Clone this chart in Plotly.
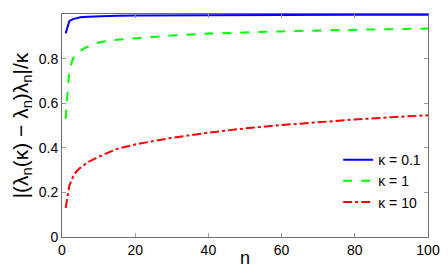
import plotly.graph_objects as go

n_blue = [1, 2, 3, 4, 5, 7, 10, 15, 20, 30, 40, 48, 60, 80, 100]
v_blue = [0.913, 0.968, 0.977, 0.982, 0.985, 0.988, 0.990, 0.992, 0.993, 0.994, 0.995, 0.997, 0.997, 0.997, 0.997]

n_green = [1, 2, 3, 4, 6, 8, 10, 14, 20, 25, 30, 40, 50, 60, 70, 80, 90, 100]
v_green = [0.53, 0.75, 0.80, 0.82, 0.846, 0.86, 0.872, 0.883, 0.891, 0.898, 0.904, 0.912, 0.918, 0.922, 0.926, 0.930, 0.933, 0.935]

n_red = [1, 2, 3, 4, 5, 7, 10, 15, 20, 30, 40, 50, 60, 70, 80, 90, 100]
v_red = [0.13, 0.23, 0.27, 0.295, 0.31, 0.335, 0.36, 0.395, 0.415, 0.445, 0.468, 0.487, 0.502, 0.516, 0.527, 0.537, 0.546]

labels = ["κ = 0.1", "κ = 1", "κ = 10"]

fig = go.Figure()
fig.add_trace(go.Scatter(x=n_blue, y=v_blue, mode="lines", name=labels[0],
                         line=dict(color="#0000ff", width=2, dash="solid")))
fig.add_trace(go.Scatter(x=n_green, y=v_green, mode="lines", name=labels[1],
                         line=dict(color="#00ff00", width=2, dash="dash")))
fig.add_trace(go.Scatter(x=n_red, y=v_red, mode="lines", name=labels[2],
                         line=dict(color="#ff0000", width=2, dash="dashdot")))

axis_common = dict(
    showgrid=False, zeroline=False, showline=True, linecolor="#6e6e6e", linewidth=1,
    mirror="ticks", ticks="inside", ticklen=4, tickcolor="#9a9a9a",
    tickfont=dict(family="Liberation Sans, Arial, sans-serif", size=14, color="black"),
)

fig.update_layout(
    width=440, height=271,
    margin=dict(l=54, r=20, t=6, b=42),
    paper_bgcolor="white", plot_bgcolor="white",
    font=dict(family="Liberation Sans, Arial, sans-serif", color="black"),
    xaxis=dict(range=[0, 100], tickvals=[0, 20, 40, 60, 80, 100], **axis_common),
    yaxis=dict(range=[0, 1], tickvals=[0, 0.2, 0.4, 0.6, 0.8, 1],
               ticktext=["0", "0.2", "0.4", "0.6", "0.8", "1"],
               title=dict(text="|(λ<sub>n</sub>(κ) − λ<sub>n</sub>)λ<sub>n</sub>|/κ", font=dict(size=21), standoff=4),
               **axis_common),
    legend=dict(x=0.995, y=0.085, xanchor="right", yanchor="bottom",
                bgcolor="rgba(255,255,255,0)", borderwidth=0,
                font=dict(size=14), tracegroupgap=0, itemwidth=30),
    showlegend=True,
    annotations=[dict(text="n", x=0.5, y=0, xref="paper", yref="paper",
                      xanchor="center", yanchor="middle", yshift=-21,
                      showarrow=False, font=dict(size=18))],
)

fig.write_html("out.html")
